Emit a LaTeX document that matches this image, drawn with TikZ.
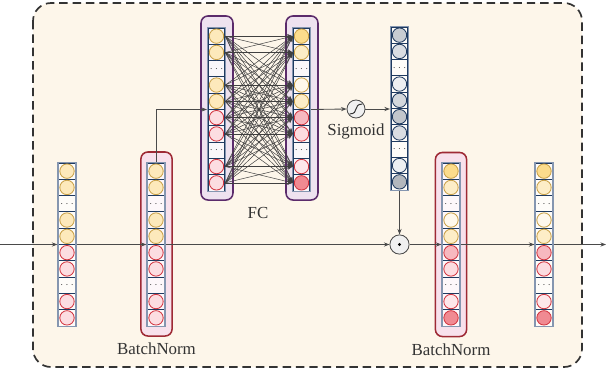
\documentclass[tikz,border=0pt]{standalone}
\usepackage{fontspec}
\setmainfont{Liberation Serif}
\usepackage{tikz}
\usetikzlibrary{arrows.meta, positioning}

\definecolor{secream}{HTML}{FDF6EA}
\definecolor{senavy}{HTML}{1F3A60}
\definecolor{seframe}{HTML}{8596B0}
\definecolor{sebnfill}{HTML}{F8E1EC}
\definecolor{sebndraw}{HTML}{9E2A35}
\definecolor{sefcfill}{HTML}{EEE2EF}
\definecolor{sefcdraw}{HTML}{5B2B6B}
\definecolor{seline}{HTML}{4A4A4A}
\definecolor{seydraw}{HTML}{C9A046}
\definecolor{sepdraw}{HTML}{D2343F}
\definecolor{sey0}{HTML}{FDE9BB}
\definecolor{sey1}{HTML}{FCDC8C}
\definecolor{sey2}{HTML}{FDEDC7}
\definecolor{sey3}{HTML}{FFF8EC}
\definecolor{sep0}{HTML}{FCDDE1}
\definecolor{sep1}{HTML}{F7B8BF}
\definecolor{sep2}{HTML}{FCDCE0}
\definecolor{sep3}{HTML}{FDE7EA}
\definecolor{sep4}{HTML}{F08A92}
\definecolor{seg1}{HTML}{C8CCD2}
\definecolor{seg2}{HTML}{DADDE2}
\definecolor{seg3}{HTML}{EDEFF2}
\definecolor{seg4}{HTML}{D3D7DC}
\definecolor{seg5}{HTML}{C2C6CC}
\definecolor{seg6}{HTML}{B3B7BD}

% neuron colour sets: index/fill/border (rows 3 and 8 are dots)
\newcommand{\inputset}{1/sey0/seydraw,2/sey0/seydraw,4/sey0/seydraw,5/sey0/seydraw,
  6/sep0/sepdraw,7/sep0/sepdraw,9/sep0/sepdraw,10/sep0/sepdraw}
\newcommand{\outputset}{1/sey1/seydraw,2/sey2/seydraw,4/sey3/seydraw,5/sey2/seydraw,
  6/sep1/sepdraw,7/sep2/sepdraw,9/sep3/sepdraw,10/sep4/sepdraw}
\newcommand{\gateset}{1/seg1/senavy,2/seg2/senavy,4/seg3/senavy,5/seg4/senavy,
  6/seg5/senavy,7/seg2/senavy,9/seg3/senavy,10/seg6/senavy}

% column of ten cells: name, x, top y, colour set
\newcommand{\secolumn}[4]{%
  \foreach \k in {1,...,10}
    \node[cell] (#1-\k) at (#2, #3+16.3*\k-8.15) {};
  \foreach \k in {3,8}
    \node[font=\scriptsize, text=black!75, inner sep=0pt] at (#1-\k) {$\cdots$};
  \foreach \k/\cf/\cd in #4
    \node[neuron, fill=\cf, draw=\cd] at (#1-\k) {};
  \node[colframe] (#1) at (#2, #3+81.5) {};
}

\begin{document}
\begin{tikzpicture}[
  x=0.025cm, y=-0.025cm,
  >={Stealth[length=4pt, width=3pt]},
  cell/.style={
    draw=senavy, fill=white, fill opacity=0.75, line width=0.6pt,
    minimum width=0.42cm, minimum height=0.4075cm, inner sep=0pt
  },
  neuron/.style={
    circle, line width=0.6pt, minimum size=0.36cm, inner sep=0pt
  },
  colframe/.style={
    draw=seframe, line width=0.8pt,
    minimum width=0.45cm, minimum height=4.1cm, inner sep=0pt
  },
  bnbox/.style={
    draw=sebndraw, fill=sebnfill, line width=1.1pt, rounded corners=5pt,
    minimum width=0.78cm, minimum height=4.6cm
  },
  fcbox/.style={
    draw=sefcdraw, fill=sefcfill, line width=1.1pt, rounded corners=5pt,
    minimum width=0.8cm, minimum height=4.6cm
  },
  label/.style={font=\fontsize{12}{14}\selectfont, text=black!80},
  mainline/.style={->, seline, line width=0.6pt},
  fcedge/.style={->, black!75, line width=0.35pt},
  opnode/.style={circle, draw=seline, fill=black!6, line width=0.6pt, inner sep=0pt}
]
\useasboundingbox (0,0) rectangle (610,376);

%% ============================================================
%%  BLOCK BACKGROUND
%% ============================================================
\draw[fill=secream, draw=black!80, line width=1.2pt, dash pattern=on 6pt off 3.5pt,
  rounded corners=0.45cm] (33,3) rectangle (582,367);

%% ============================================================
%%  BOXES
%% ============================================================
\node[bnbox] (bn1box) at (156.5,244) {};
\node[bnbox] (bn2box) at (451,244.5) {};
\node[fcbox] (fcinbox) at (217,108) {};
\node[fcbox] (fcoutbox) at (302,108) {};

\node[label, below=1pt of bn1box] {BatchNorm};
\node[label, below=1pt of bn2box] {BatchNorm};
\node[label] at (258,213) {FC};

%% ============================================================
%%  COLUMNS
%% ============================================================
\secolumn{xin}{67}{163}{\inputset}
\secolumn{bn1}{156}{163}{\inputset}
\secolumn{fcin}{216.5}{28}{\inputset}
\secolumn{fcout}{301.5}{28}{\outputset}
\secolumn{gate}{399.5}{27}{\gateset}
\secolumn{bn2}{451}{163}{\outputset}
\secolumn{xout}{544}{163}{\outputset}

%% FC edges
\foreach \i in {1,2,4,5,6,7,9,10}
  \foreach \j in {1,2,4,5,6,7,9,10}
    \draw[fcedge] (fcin-\i.east) -- (fcout-\j.west);

%% ============================================================
%%  OPERATORS
%% ============================================================
\node[opnode, minimum size=0.45cm] (sig) at (356,109) {};
\draw[black!80, line width=0.7pt]
  ([shift={(-4.5pt,-3.5pt)}]sig.center)
  .. controls ([shift={(2.5pt,-3.5pt)}]sig.center) and ([shift={(-2.5pt,3.5pt)}]sig.center)
  .. ([shift={(4.5pt,3.5pt)}]sig.center);
\node[label, below=0pt of sig] {Sigmoid};

\node[opnode, minimum size=0.48cm] (mul) at (399.5,244.5) {};
\fill[black] (mul) circle (1.1pt);

%% ============================================================
%%  CONNECTORS
%% ============================================================
\coordinate (start) at (0,244.5);
\coordinate (finish) at (606,244.5);

\draw[mainline] (start) -- (xin.west);
\draw[mainline] (xin.east) -- (bn1.west);
\draw[mainline] (bn1.east) -- (mul.west);
\draw[mainline] (mul.east) -- (bn2.west);
\draw[mainline] (bn2.east) -- (xout.west);
\draw[mainline] (xout.east) -- (finish);

\draw[mainline] (bn1.north) |- (fcin.west);
\draw[mainline] (fcout.east) -- (sig.west);
\draw[mainline] (sig.east) -- (gate.west |- sig.east);
\draw[mainline] (gate.south) -- (mul.north);

\end{tikzpicture}
\end{document}
